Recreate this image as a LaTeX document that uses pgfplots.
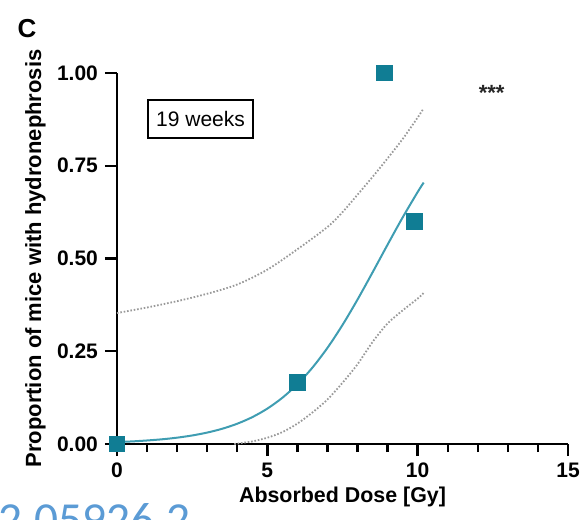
\documentclass[border=0pt]{standalone}
\usepackage{fontspec}
\setmainfont{Liberation Sans}
\newfontfamily\wmfont{Carlito}
\usepackage{pgfplots}
\pgfplotsset{compat=1.18}
\definecolor{markc}{HTML}{107D94}
\definecolor{curvec}{HTML}{3F9DB2}
\definecolor{cigray}{HTML}{999999}
\definecolor{wmblue}{HTML}{5B9BD5}
\begin{document}
\begin{tikzpicture}
\begin{axis}[
  at={(0,0)}, anchor=south west,
  scale only axis, width=225.5pt, height=185.5pt,
  xmin=0, xmax=15, ymin=0, ymax=1,
  clip=false,
  axis x line*=bottom, axis y line*=left,
  axis line style={-, line width=1.2pt, black},
  xtick={0,5,10,15}, minor x tick num=4,
  ytick={0,0.25,0.5,0.75,1},
  tick align=outside,
  major tick length=6pt, minor tick length=4pt,
  tick style={black, line width=1.2pt},
  /pgf/number format/assume math mode=true,
  ticklabel style={font=\bfseries\fontsize{10.5}{12}\selectfont},
  y tick label style={/pgf/number format/fixed, /pgf/number format/fixed zerofill, /pgf/number format/precision=2},
  xlabel={Absorbed Dose [Gy]},
  ylabel={Proportion of mice with hydronephrosis},
  every axis x label/.style={at={(axis description cs:0.5,-0.143)}, anchor=center, font=\bfseries\fontsize{10.7}{13}\selectfont},
  every axis y label/.style={at={(axis description cs:-0.181,0.5)}, rotate=90, anchor=center, font=\bfseries\fontsize{11}{13}\selectfont},
]
% upper confidence band
\addplot[cigray, line width=0.9pt, dash pattern=on 0.8pt off 0.9pt, smooth] coordinates {
  (0,0.353) (1,0.368) (2,0.385) (3,0.405) (4,0.430) (5,0.470) (6,0.525)
  (7,0.585) (7.5,0.625) (8,0.672) (8.5,0.720) (9,0.770) (9.5,0.822) (10,0.880) (10.2,0.905)
};
% lower confidence band
\addplot[cigray, line width=0.9pt, dash pattern=on 0.8pt off 0.9pt, smooth] coordinates {
  (3.9,0.0) (4.5,0.007) (5,0.017) (5.5,0.032) (6,0.055) (6.5,0.085) (7,0.120)
  (7.5,0.165) (8,0.215) (8.5,0.275) (9,0.325) (9.5,0.360) (10,0.392) (10.2,0.407)
};
% fitted curve
\addplot[curvec, line width=1pt, smooth] coordinates {
  (0,0.0052) (0.5,0.0070) (1,0.0095) (1.5,0.0127) (2,0.0171) (2.5,0.0230)
  (3,0.0308) (3.5,0.0411) (4,0.0547) (4.5,0.0724) (5,0.0954) (5.5,0.1246)
  (6,0.1611) (6.5,0.2059) (7,0.2592) (7.5,0.3208) (8,0.3894) (8.5,0.4626)
  (9,0.5374) (9.5,0.6106) (10,0.6792) (10.2,0.7047)
};
% observed proportions
\addplot[only marks, mark=square*, mark size=3.9pt, mark options={fill=markc, draw=markc}] coordinates {
  (0,0) (6,0.1667) (8.9,1.0) (9.9,0.6)
};
\node[draw, line width=1pt, minimum width=52.5pt, minimum height=19pt, inner sep=0pt,
      font=\fontsize{10.5}{12}\selectfont] at (axis cs:2.78,0.876) {19 weeks};
\node[anchor=base, inner sep=0pt, text=black!85, font=\bfseries\fontsize{11}{11}\selectfont] at (axis cs:12.46,0.925) {***};
\end{axis}
\node[anchor=center, inner sep=0pt, font=\bfseries\fontsize{13}{13}\selectfont] at (-45pt,207.5pt) {C};
\node[anchor=base west, inner sep=0pt, text=wmblue, font=\wmfont\fontsize{23.7}{24}\selectfont] at (-59.5pt,-45.5pt) {2.05926.2};
\pgfresetboundingbox
\useasboundingbox (-58.5pt,-37.5pt) rectangle (233pt,222pt);
\end{tikzpicture}
\end{document}
